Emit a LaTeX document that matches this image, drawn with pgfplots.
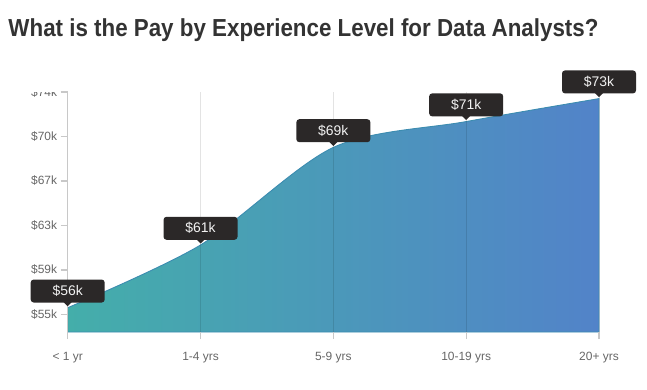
\documentclass[border=0pt]{standalone}
\usepackage{fontspec}
\setmainfont{Liberation Sans}
\usepackage{pgfplots}
\pgfplotsset{compat=1.18}
\definecolor{titlec}{HTML}{333333}
\definecolor{tickc}{HTML}{666666}
\definecolor{axisc}{HTML}{C8C8C8}
\definecolor{fillL}{HTML}{44AEAA}
\definecolor{fillR}{HTML}{5283C9}
\definecolor{linec}{HTML}{3C8CB0}
\definecolor{tipc}{HTML}{2B2828}
\definecolor{tiptext}{HTML}{F2F2F2}
\pgfdeclareplotmark{tipdown}{%
 \pgfpathmoveto{\pgfpoint{-4bp}{5.5bp}}%
 \pgfpathlineto{\pgfpoint{4bp}{5.5bp}}%
 \pgfpathlineto{\pgfpoint{0bp}{1.5bp}}%
 \pgfpathclose\pgfusepathqfill}
\pgfplotsset{geom/.style={
  at={(67.7bp,57bp)}, anchor=south west, scale only axis,
  width=531.3bp, height=240bp,
  xmin=0, xmax=4, ymin=53.93, ymax=73.9, clip=false}}
\begin{document}
\begin{tikzpicture}[x=1bp,y=1bp]
\path (0,0) rectangle (647,389);
\node[anchor=base west, inner sep=0, text=titlec] at (8.3,353) {\resizebox{590bp}{\height}{\fontsize{24.7}{28}\selectfont\bfseries What is the Pay by Experience Level for Data Analysts?}};
\begin{axis}[geom,
  axis on top,
  axis lines=left, axis line style={-},
  x axis line style={draw=none},
  y axis line style={draw=axisc, line width=1.5bp},
  xtick={0,1,2,3,4},
  xticklabels={{< 1 yr},{1-4 yrs},{5-9 yrs},{10-19 yrs},{20+ yrs}},
  ytick={55.4,59.1,62.8,66.5,70.2,73.9},
  yticklabels={\$55k,\$59k,\$63k,\$67k,\$70k,\$74k},
  tick align=outside, major tick length=7bp,
  tick style={draw=axisc, line width=1.3bp},
  xmajorgrids, major grid style={draw=black, opacity=0.11, line width=1bp},
  ticklabel style={font=\fontsize{12}{14}\selectfont, text=tickc, inner sep=0pt},
  xticklabel style={anchor=north, yshift=-12.7bp},
  yticklabel style={anchor=east, xshift=-3.4bp},
]
\addplot[smooth, draw=linec, line width=0.9bp, left color=fillL, right color=fillR]
  coordinates {(0,55.95) (1,61.17) (2,69.29) (3,71.44) (4,73.35)} \closedcycle;
\end{axis}
\begin{axis}[geom, hide axis]
\addplot[only marks, mark=tipdown, color=tipc,
  point meta=explicit symbolic, nodes near coords,
  nodes near coords style={fill=tipc, text=tiptext, rounded corners=3bp,
    minimum width=74bp, minimum height=23bp, inner sep=0pt, anchor=south,
    yshift=5bp, font=\fontsize{14}{16}\selectfont}]
  coordinates {(0,55.95)[\$56k] (1,61.17)[\$61k] (2,69.29)[\$69k] (3,71.44)[\$71k] (4,73.35)[\$73k]};
\end{axis}
\fill[white] (0,297.3) rectangle (59,330);
\end{tikzpicture}
\end{document}
